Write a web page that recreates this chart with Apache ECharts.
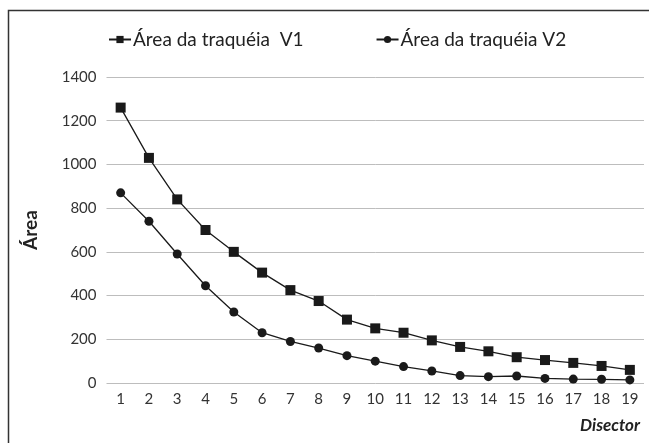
<!DOCTYPE html>
<html><head><meta charset="utf-8">
<script src="https://cdn.jsdelivr.net/npm/echarts@6/dist/echarts.min.js"></script>
<style>html,body{margin:0;padding:0;background:#fff}#c{width:649px;height:443px}</style>
</head><body><div id="c"></div>
<script>
const categories = ['1','2','3','4','5','6','7','8','9','10','11','12','13','14','15','16','17','18','19'];
const v1 = [1260,1030,840,700,600,505,425,375,290,250,230,195,165,145,118,105,92,78,60];
const v2 = [870,740,590,445,325,230,190,160,125,100,75,55,34,29,32,21,18,17,14];
const seriesNames = ['Área da traquéia  V1','Área da traquéia V2'];
const yTicks = {min:0,max:1400,interval:200};
const FONT = 'Lato';
const chart = echarts.init(document.getElementById('c'));
chart.setOption({
  animation:false,
  backgroundColor:'#fff',
  textStyle:{fontFamily:FONT},
  graphic:[{type:'rect',shape:{x:8.5,y:10.5,width:700,height:500},style:{fill:'none',stroke:'#333',lineWidth:1.5},silent:true}],
  legend:{
    top:25, left:103, itemGap:72, itemWidth:22, itemHeight:9,
    textStyle:{fontFamily:FONT,fontSize:19,color:'#222',padding:[0,0,0,-3]},
    data:[seriesNames[0],seriesNames[1]]
  },
  grid:{left:106.5,right:5,top:77,bottom:60,containLabel:false},
  xAxis:{
    type:'category', data:categories, boundaryGap:true,
    name:'Disector', nameLocation:'end', nameGap:0,
    nameTextStyle:{fontFamily:FONT,fontSize:17,fontWeight:'bold',fontStyle:'italic',color:'#222',align:'right',verticalAlign:'top',padding:[34,4,0,0]},
    axisLine:{show:false}, axisTick:{show:false},
    axisLabel:{fontFamily:FONT,fontSize:15,color:'#333',margin:9}
  },
  yAxis:{
    type:'value', min:yTicks.min, max:yTicks.max, interval:yTicks.interval,
    name:'Área', nameLocation:'middle', nameGap:66, nameRotate:90,
    nameTextStyle:{fontFamily:FONT,fontSize:19,fontWeight:'bold',color:'#222'},
    axisLine:{show:false}, axisTick:{show:false},
    axisLabel:{fontFamily:FONT,fontSize:15,color:'#333',margin:10,formatter:function(v){return String(v);}},
    splitLine:{lineStyle:{color:'#bdbdbd',width:1}}
  },
  series:[
    {name:seriesNames[0],type:'line',data:v1,symbol:'rect',symbolSize:10,
     lineStyle:{color:'#1a1a1a',width:1.3},itemStyle:{color:'#1a1a1a'}},
    {name:seriesNames[1],type:'line',data:v2,symbol:'circle',symbolSize:9,
     lineStyle:{color:'#1a1a1a',width:1.3},itemStyle:{color:'#1a1a1a'}}
  ]
});
</script></body></html>
